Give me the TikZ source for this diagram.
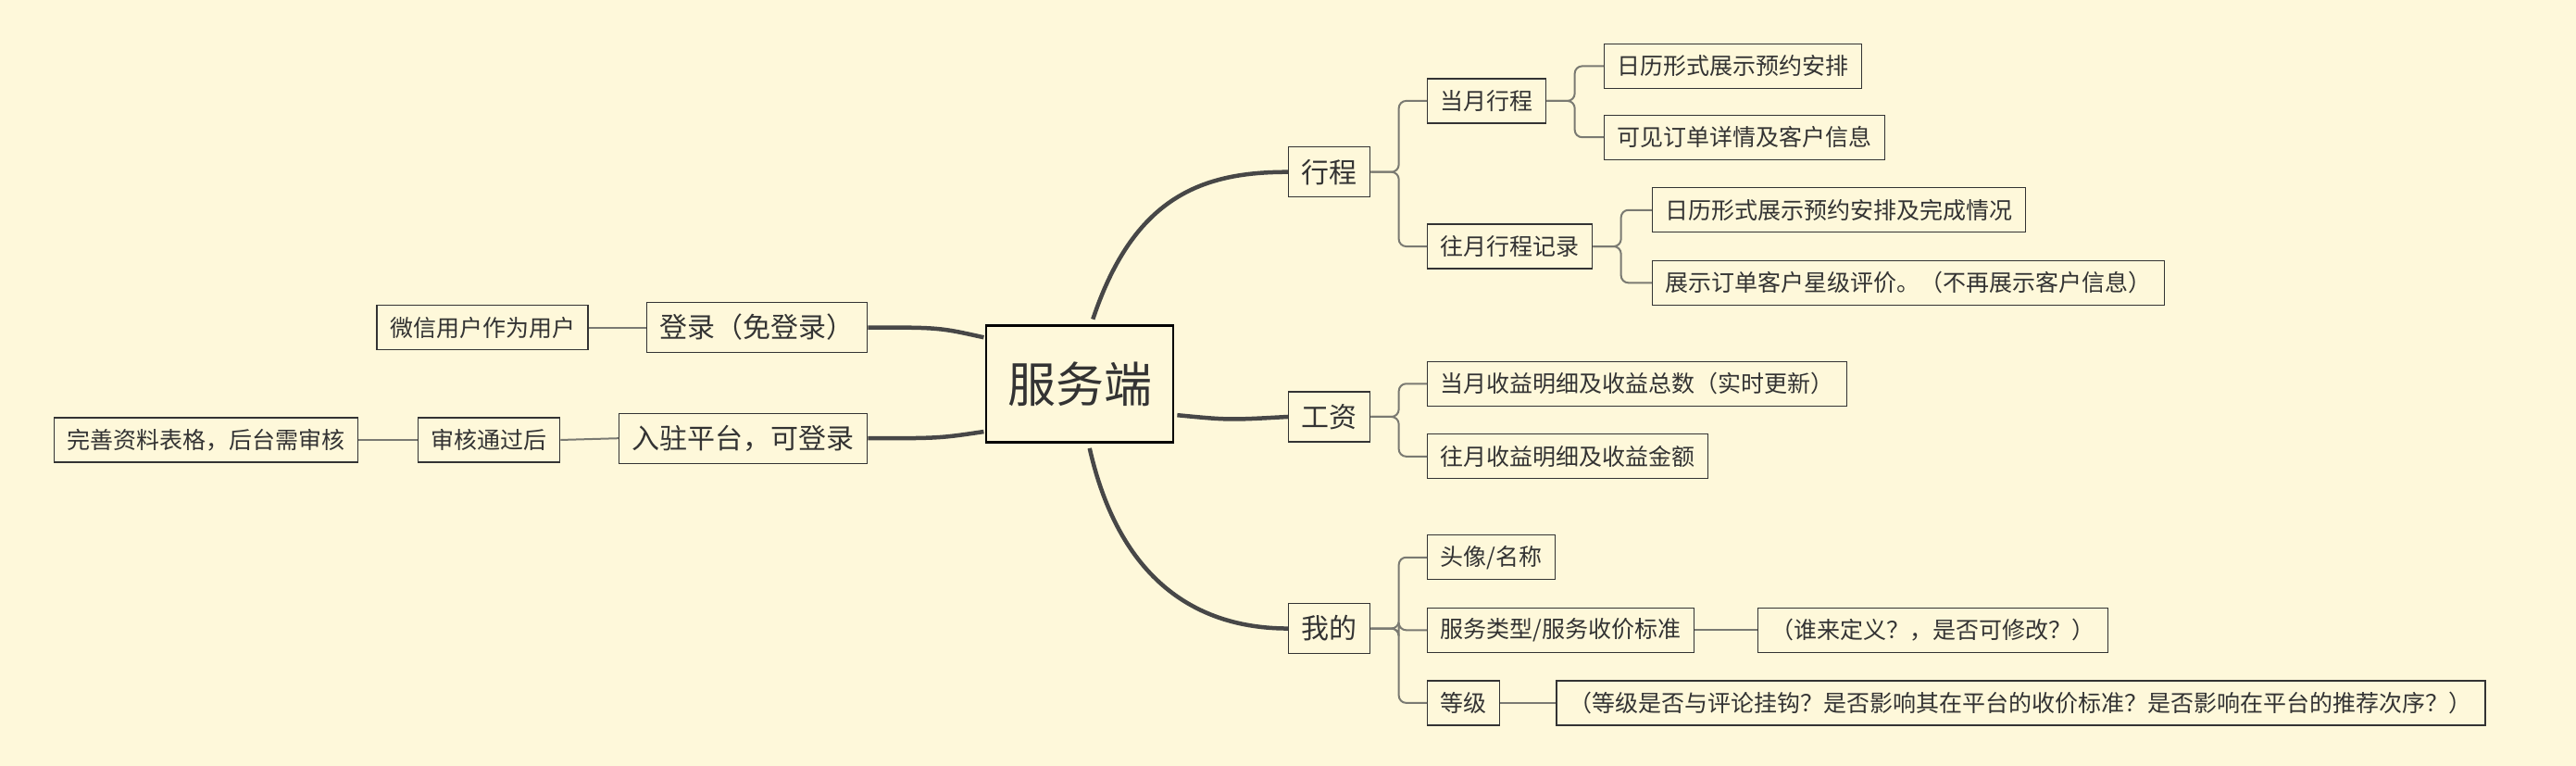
\documentclass[tikz,border=0pt]{standalone}
\usepackage{fontspec}
\newfontfamily\cjk{Noto Sans CJK SC}
\definecolor{bg}{HTML}{FEF8DA}
\definecolor{ink}{HTML}{333333}
\definecolor{thin}{HTML}{7A7A72}
\begin{document}
\begin{tikzpicture}[x=1.7856pt,y=-1.7856pt,
  box/.style={draw=ink,line width=1.3pt,fill=bg,text=ink,inner xsep=14pt,minimum height=48pt,font=\cjk\fontsize{25}{29}\selectfont},
  l1/.style={box,minimum height=54pt,inner xsep=14pt,font=\cjk\fontsize{30}{34}\selectfont},
  root/.style={draw=black,line width=2.6pt,fill=bg,text=ink,minimum width=202pt,minimum height=126pt,font=\cjk\fontsize{52}{56}\selectfont},
  thick/.style={draw=ink!90,line width=4.5pt},
  br/.style={draw=thin,line width=2pt,rounded corners=8pt}]
\fill[bg] (0,0) rectangle (1558,463);
\useasboundingbox (0,0) rectangle (1558,463);
\node[root] (c) at (653,232) {服务端};
\node[l1,anchor=west] (xc) at (779,104) {行程};
\node[l1,anchor=west] (gz) at (779,252) {工资};
\node[l1,anchor=west] (wd) at (779,380) {我的};
\node[l1,anchor=east] (dl) at (525,198) {登录（免登录）};
\node[l1,anchor=east] (rz) at (525,265) {入驻平台，可登录};
\node[box,anchor=east] (wx) at (356,198) {微信用户作为用户};
\node[box,anchor=east] (sh) at (339,266) {审核通过后};
\node[box,anchor=east] (ws) at (217,266) {完善资料表格，后台需审核};
\node[box,anchor=west] (dy) at (863,61) {当月行程};
\node[box,anchor=west] (wy) at (863,149) {往月行程记录};
\node[box,anchor=west] (a1) at (970,40) {日历形式展示预约安排};
\node[box,anchor=west] (a2) at (970,83) {可见订单详情及客户信息};
\node[box,anchor=west] (b1) at (999,127) {日历形式展示预约安排及完成情况};
\node[box,anchor=west] (b2) at (999,171) {展示订单客户星级评价。（不再展示客户信息）};
\node[box,anchor=west] (g1) at (863,232) {当月收益明细及收益总数（实时更新）};
\node[box,anchor=west] (g2) at (863,276) {往月收益明细及收益金额};
\node[box,anchor=west] (m1) at (863,337) {头像/名称};
\node[box,anchor=west] (m2) at (863,381) {服务类型/服务收价标准};
\node[box,anchor=west] (m3) at (863,425) {等级};
\node[box,anchor=west] (m2a) at (1063,381) {（谁来定义？，是否可修改？）};
\node[box,anchor=west] (m3a) at (941,425) {（等级是否与评论挂钩？是否影响其在平台的收价标准？是否影响在平台的推荐次序？）};
\coordinate (cxc) at (661,193);
\coordinate (cwd) at (659,271);
\coordinate (cgz) at (712,251);
\coordinate (cdl) at (595,204);
\coordinate (crz) at (595,261);
\draw[thick] (cxc) .. controls (686,118) and (728,104) .. (xc.west);
\draw[thick] (cwd) .. controls (678,355) and (728,380) .. (wd.west);
\draw[thick] (cgz) .. controls (743,254) .. (gz.west);
\draw[thick] (dl.east) .. controls (568,198) .. (cdl);
\draw[thick] (rz.east) .. controls (568,265) .. (crz);
\draw[br] (wx.east) -- (dl.west);
\draw[br] (sh.east) -- (rz.west);
\draw[br] (ws.east) -- (sh.west);
\foreach \p/\c in {xc/dy,xc/wy,dy/a1,dy/a2,wy/b1,wy/b2,gz/g1,gz/g2,wd/m1,wd/m2,wd/m3}
  \draw[br] (\p.east) -- ++(17,0) |- (\c.west);
\draw[br] (m2.east) -- (m2a.west);
\draw[br] (m3.east) -- (m3a.west);
\end{tikzpicture}
\end{document}
